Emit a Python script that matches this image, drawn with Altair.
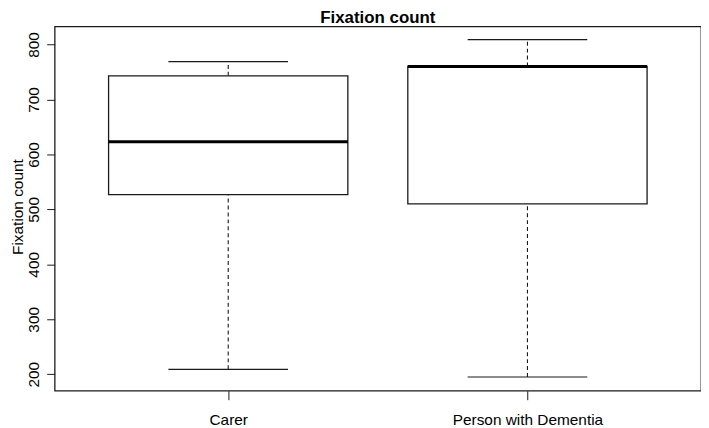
import altair as alt
import pandas as pd

groups = ["Carer", "Person with Dementia"]
lower_whisker = [209, 195]
q1 = [527, 510]
median = [623, 760]
q3 = [743, 760]
upper_whisker = [769, 809]
y_ticks = [200, 300, 400, 500, 600, 700, 800]

df = pd.DataFrame({
    "group": groups,
    "lo": lower_whisker,
    "q1": q1,
    "med": median,
    "q3": q3,
    "hi": upper_whisker,
})

FONT = "Liberation Sans"
INK = "#1a1a1a"

x_enc = alt.X(
    "group:N",
    sort=groups,
    scale=alt.Scale(type="point", padding=0.58),
    axis=alt.Axis(
        title=None, domain=False, grid=False, tickSize=9, tickColor=INK,
        tickWidth=1, labelAngle=0, labelFont=FONT, labelFontSize=15.5,
        labelColor="black", labelPadding=25, labelBaseline="alphabetic",
    ),
)
y_scale = alt.Scale(domain=[170, 833], nice=False, zero=False)
y_axis = alt.Axis(
    title="Fixation count", values=y_ticks, domain=False, grid=False,
    tickSize=8, tickColor=INK, tickWidth=1, labelAngle=270,
    labelAlign="center", labelBaseline="alphabetic", labelPadding=8,
    labelFont=FONT, labelFontSize=15.5, labelColor="black",
    titleFont=FONT, titleFontSize=15.5, titleFontWeight="normal",
    titleColor="black", titleAngle=270, titleX=-32, titleY=181.5,
    titleAlign="center", titleBaseline="alphabetic",
)

base = alt.Chart(df)

upper = base.mark_rule(color=INK, strokeWidth=1.1, strokeDash=[4, 3]).encode(
    x=x_enc, y=alt.Y("q3:Q", scale=y_scale, axis=y_axis), y2="hi:Q"
)
lower = base.mark_rule(color=INK, strokeWidth=1.1, strokeDash=[4, 3]).encode(
    x=x_enc, y=alt.Y("lo:Q", scale=y_scale, axis=y_axis), y2="q1:Q"
)
box = base.mark_bar(size=241, fill="white", stroke=INK, strokeWidth=1.3).encode(
    x=x_enc, y=alt.Y("q1:Q", scale=y_scale, axis=y_axis), y2="q3:Q"
)
med = base.mark_tick(size=241, thickness=3, color="black", opacity=1).encode(
    x=x_enc, y=alt.Y("med:Q", scale=y_scale, axis=y_axis)
)
cap_hi = base.mark_tick(size=120.5, thickness=1.2, color=INK, opacity=1).encode(
    x=x_enc, y=alt.Y("hi:Q", scale=y_scale, axis=y_axis)
)
cap_lo = base.mark_tick(size=120.5, thickness=1.2, color=INK, opacity=1).encode(
    x=x_enc, y=alt.Y("lo:Q", scale=y_scale, axis=y_axis)
)

chart = alt.layer(upper, lower, box, med, cap_hi, cap_lo).properties(
    width=651,
    height=367,
    title=alt.TitleParams(
        "Fixation count", font=FONT, fontSize=17, fontWeight="bold",
        color="black", anchor="middle", frame="group", offset=1, dy=2,
    ),
    autosize=alt.AutoSizeParams(type="none"),
    padding={"left": 47, "top": 17, "right": 0, "bottom": 36},
    background="white",
).configure_view(stroke=INK, strokeWidth=1.3)

chart.save("out.html", embed_options={"renderer": "svg", "actions": False})
